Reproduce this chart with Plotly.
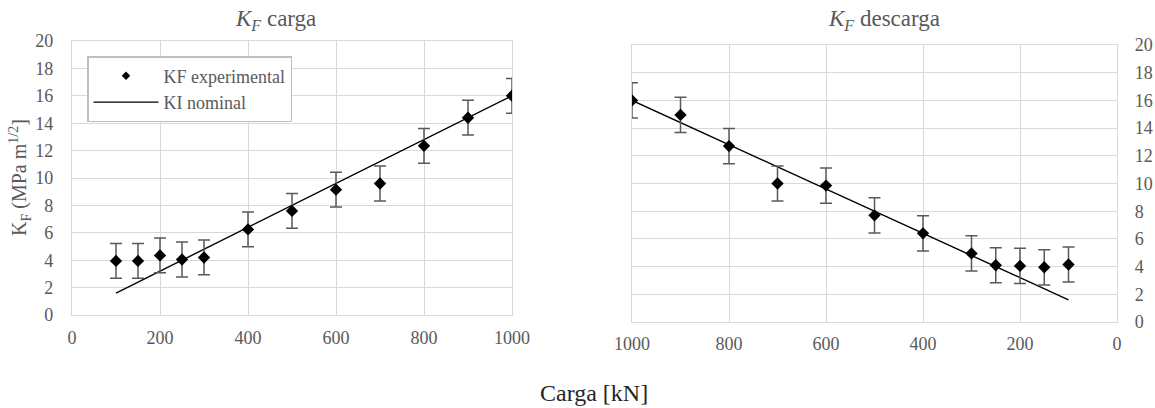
import plotly.graph_objects as go

W, H = 1155, 408

# ---- data ----
carga_x = [100, 150, 200, 250, 300, 400, 500, 600, 700, 800, 900, 1000]
kf_carga = [3.95, 3.95, 4.35, 4.05, 4.2, 6.25, 7.6, 9.15, 9.6, 12.35, 14.4, 16.0]
kf_carga_err = [1.27, 1.27, 1.27, 1.27, 1.27, 1.27, 1.27, 1.27, 1.27, 1.27, 1.27, 1.27]
kf_descarga = [4.15, 3.95, 4.05, 4.1, 4.95, 6.4, 7.7, 9.85, 10.0, 12.7, 14.95, 16.0]
kf_descarga_err = [1.27, 1.27, 1.27, 1.27, 1.27, 1.27, 1.27, 1.27, 1.27, 1.27, 1.27, 1.27]
ki_nominal = [1.6, 2.4, 3.2, 4.0, 4.8, 6.4, 8.0, 9.6, 11.2, 12.8, 14.4, 16.0]
x_ticks = [0, 200, 400, 600, 800, 1000]
y_ticks = [0, 2, 4, 6, 8, 10, 12, 14, 16, 18, 20]

FONT = "Liberation Serif, Times New Roman, serif"
GRAY = "#595959"
GRID = "#d9d9d9"


def px_x(p):
    return p / W


def px_y(p):
    return 1 - p / H


fig = go.Figure()

err_style = dict(type="data", thickness=1.5, width=6, color=GRAY)
mk = dict(symbol="diamond", size=9.5, color="black")

# left plot
fig.add_trace(go.Scatter(x=carga_x, y=ki_nominal, mode="lines",
                         line=dict(color="black", width=1.4),
                         xaxis="x", yaxis="y", showlegend=False))
fig.add_trace(go.Scatter(x=carga_x, y=kf_carga, mode="markers", marker=mk,
                         error_y=dict(array=kf_carga_err, **err_style),
                         xaxis="x", yaxis="y", showlegend=False))
# right plot
fig.add_trace(go.Scatter(x=carga_x, y=ki_nominal, mode="lines",
                         line=dict(color="black", width=1.4),
                         xaxis="x2", yaxis="y2", showlegend=False))
fig.add_trace(go.Scatter(x=carga_x, y=kf_descarga, mode="markers", marker=mk,
                         error_y=dict(array=kf_descarga_err, **err_style),
                         xaxis="x2", yaxis="y2", showlegend=False))
# legend entries
fig.add_trace(go.Scatter(x=[None], y=[None], mode="markers", name="KF experimental",
                         marker=dict(symbol="diamond", size=6.5, color="black"),
                         xaxis="x", yaxis="y"))
fig.add_trace(go.Scatter(x=[None], y=[None], mode="lines", name="KI nominal",
                         line=dict(color="black", width=1.4),
                         xaxis="x", yaxis="y"))

axis_common = dict(showgrid=True, gridcolor=GRID, gridwidth=1.3, showline=True,
                   linecolor=GRID, linewidth=1.3, mirror=True, zeroline=False,
                   tickfont=dict(family=FONT, size=18, color=GRAY),
                   ticks="", fixedrange=True, automargin=False)

fig.update_layout(
    width=W, height=H,
    margin=dict(l=0, r=0, t=0, b=0, autoexpand=False),
    paper_bgcolor="white", plot_bgcolor="white",
    font=dict(family=FONT, color=GRAY),
    xaxis=dict(domain=[px_x(72), px_x(512)], range=[0, 1000], tickvals=x_ticks,
               anchor="y", ticklabelstandoff=6, **axis_common),
    yaxis=dict(domain=[px_y(315), px_y(41)], range=[0, 20], tickvals=y_ticks,
               anchor="x", ticklabelstandoff=14, **axis_common),
    xaxis2=dict(domain=[px_x(632), px_x(1117)], range=[1000, 0], tickvals=x_ticks,
                anchor="y2", ticklabelstandoff=5, **axis_common),
    yaxis2=dict(domain=[px_y(322), px_y(45)], range=[0, 20], tickvals=y_ticks,
                anchor="x2", side="right", ticklabelstandoff=13, **axis_common),
    legend=dict(x=px_x(87), y=px_y(56), xanchor="left", yanchor="top",
                bgcolor="white", bordercolor="#bfbfbf", borderwidth=1.5,
                font=dict(family=FONT, size=18, color=GRAY),
                tracegroupgap=0, itemwidth=65),
    annotations=[
        dict(text="<i>K<sub>F</sub></i> carga", x=px_x(275), y=px_y(20),
             xref="paper", yref="paper", showarrow=False, xanchor="center", yanchor="middle",
             font=dict(family=FONT, size=23, color=GRAY)),
        dict(text="<i>K<sub>F</sub></i> descarga", x=px_x(884), y=px_y(20),
             xref="paper", yref="paper", showarrow=False, xanchor="center", yanchor="middle",
             font=dict(family=FONT, size=23, color=GRAY)),
        dict(text="K<sub>F</sub> (MPa m<sup>1/2</sup>]", x=px_x(20), y=px_y(178),
             xref="paper", yref="paper", showarrow=False, textangle=-90,
             xanchor="center", yanchor="middle",
             font=dict(family=FONT, size=20, color=GRAY)),
        dict(text="Carga [kN]", x=px_x(594), y=px_y(393),
             xref="paper", yref="paper", showarrow=False, xanchor="center", yanchor="middle",
             font=dict(family=FONT, size=24, color="#262626")),
    ],
)

fig.write_html("out.html")
